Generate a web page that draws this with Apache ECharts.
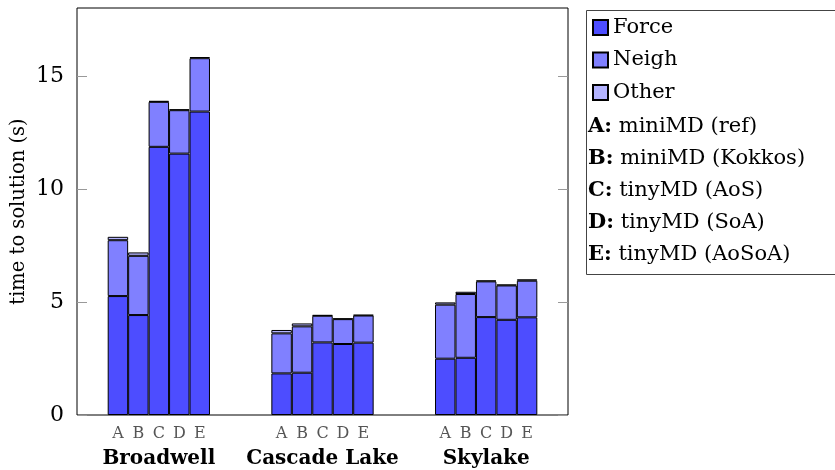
<!DOCTYPE html>
<html><head><meta charset="utf-8">
<script src="https://cdn.jsdelivr.net/npm/echarts@6/dist/echarts.min.js"></script>
<style>html,body{margin:0;padding:0;background:#fff}#c{width:835px;height:470px}</style>
</head><body><div id="c"></div>
<script>
const groups = ['Broadwell', 'Cascade Lake', 'Skylake'];
const variants = ['A', 'B', 'C', 'D', 'E'];
const variantNames = ['miniMD (ref)', 'miniMD (Kokkos)', 'tinyMD (AoS)', 'tinyMD (SoA)', 'tinyMD (AoSoA)'];
const seriesNames = ['Force', 'Neigh', 'Other'];
// values per group, per variant A..E
const force = [5.26, 4.42, 11.86, 11.56, 13.42,  1.84, 1.87, 3.21, 3.14, 3.20,  2.49, 2.53, 4.33, 4.21, 4.32];
const neigh = [2.47, 2.62, 1.99, 1.92, 2.36,  1.77, 2.05, 1.18, 1.10, 1.20,  2.39, 2.82, 1.58, 1.52, 1.62];
const other = [0.15, 0.15, 0.04, 0.04, 0.05,  0.15, 0.13, 0.03, 0.03, 0.03,  0.10, 0.10, 0.04, 0.04, 0.06];
const yTicks = [0, 5, 10, 15];

// axis slots: lead empty slots, 5 bars per group, empty gap slots between groups
const LEAD = 2, GAP = 3;
const slotLabels = [], slotGroup = [], slotIndex = [];
for (let i = 0; i < LEAD; i++) { slotLabels.push(''); slotGroup.push(''); slotIndex.push(-1); }
groups.forEach((g, gi) => {
  variants.forEach((v, vi) => {
    slotLabels.push(v);
    slotGroup.push(vi === 2 ? g : '');
    slotIndex.push(gi * variants.length + vi);
  });
  const n = gi < groups.length - 1 ? GAP : LEAD;
  for (let i = 0; i < n; i++) { slotLabels.push(''); slotGroup.push(''); slotIndex.push(-1); }
});
const cats = slotLabels.map((l, i) => 's' + i);
const toSlots = arr => slotIndex.map(k => k < 0 ? '-' : arr[k]);

const FONT = 'DejaVu Serif';
const colors = ['#4d4dff', '#8080ff', '#b3b3ff'];
const values = [force, neigh, other];

const chart = echarts.init(document.getElementById('c'));
chart.setOption({
  animation: false,
  textStyle: { fontFamily: FONT },
  grid: { left: 77, right: 267, top: 8, bottom: 55, show: true, borderColor: '#000', borderWidth: 1,
    backgroundColor: 'transparent', containLabel: false, outerBoundsMode: 'none' },
  legend: {
    orient: 'vertical', left: 592, top: 17, itemWidth: 15, itemHeight: 15, itemGap: 11.5,
    icon: 'rect', selectedMode: false, padding: 0,
    textStyle: { fontFamily: FONT, fontSize: 21, color: '#000', lineHeight: 20 },
    data: seriesNames
  },
  title: {
    left: 588, top: 111, padding: 0,
    text: variants.map((v, i) => '{b|' + v + ':} ' + variantNames[i]).join('\n'),
    textStyle: {
      fontFamily: FONT, fontSize: 21, fontWeight: 'normal', color: '#000', lineHeight: 32,
      rich: { b: { fontFamily: FONT, fontSize: 21, fontWeight: 'bold', color: '#000', lineHeight: 32 } }
    }
  },
  graphic: [{
    type: 'rect', left: 584, top: 8, silent: true,
    shape: { width: 270, height: 264 },
    style: { fill: 'none', stroke: '#444', lineWidth: 1 }
  }],
  xAxis: [{
    type: 'category', data: cats, boundaryGap: false, position: 'bottom',
    axisLine: { show: false },
    axisTick: { show: true, inside: true, length: 9, lineStyle: { color: '#999' },
      interval: (i) => slotGroup[i] !== '' },
    axisLabel: { interval: 0, margin: 11, fontFamily: FONT, fontSize: 16, color: '#555',
      formatter: (v, i) => slotLabels[i] },
    splitLine: { show: false }
  }, {
    type: 'category', data: cats, boundaryGap: false, position: 'bottom',
    axisLine: { show: false }, axisTick: { show: false },
    axisLabel: { interval: 0, margin: 34, fontFamily: FONT, fontSize: 20, fontWeight: 'bold', color: '#000',
      formatter: (v, i) => slotGroup[i] },
    splitLine: { show: false }
  }],
  yAxis: [{
    type: 'value', min: 0, max: 18, position: 'left',
    name: 'time to solution (s)', nameLocation: 'middle', nameRotate: 90, nameGap: 48, nameMoveOverlap: false,
    nameTextStyle: { fontFamily: FONT, fontSize: 19.5, color: '#000' },
    axisLine: { show: false },
    axisTick: { show: true, inside: true, length: 10, customValues: yTicks, lineStyle: { color: '#999' } },
    axisLabel: { customValues: yTicks, margin: 13, fontFamily: FONT, fontSize: 22, color: '#000' },
    splitLine: { show: false }
  }, {
    type: 'value', min: 0, max: 18, position: 'right',
    axisLine: { show: false },
    axisTick: { show: true, inside: true, length: 10, customValues: yTicks, lineStyle: { color: '#999' } },
    axisLabel: { show: false },
    splitLine: { show: false }
  }],
  series: seriesNames.map((name, si) => ({
    name, type: 'bar', stack: 'total', xAxisIndex: 0, yAxisIndex: 0,
    barWidth: '100%',
    itemStyle: { color: colors[si], borderColor: '#000', borderWidth: 1 },
    emphasis: { disabled: true },
    data: toSlots(values[si])
  }))
});
</script>
</body></html>
